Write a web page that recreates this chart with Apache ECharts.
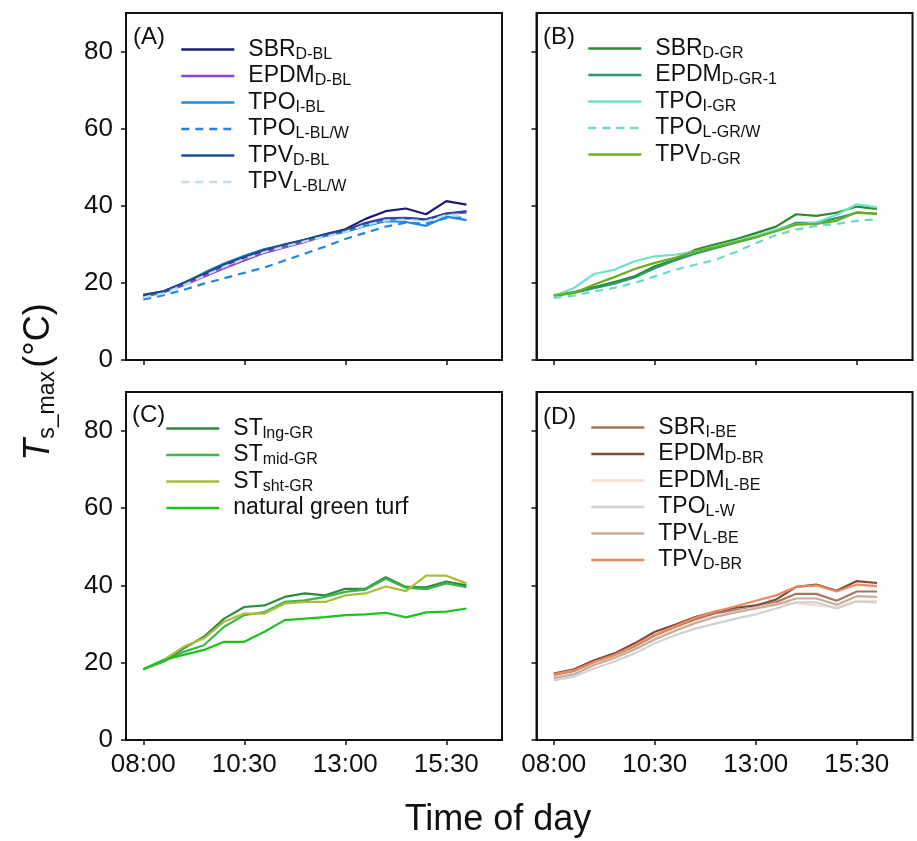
<!DOCTYPE html>
<html>
<head>
<meta charset="utf-8">
<script src="https://cdn.jsdelivr.net/npm/echarts@6/dist/echarts.min.js"></script>
<style>
html,body{margin:0;padding:0;background:#fff;}
#c{width:917px;height:841px;}
</style>
</head>
<body>
<div id="c"></div>
<script>
// ---- data ----
const times = ['08:00','08:30','09:00','09:30','10:00','10:30','11:00','11:30','12:00','12:30','13:00','13:30','14:00','14:30','15:00','15:30','16:00'];
const tickLabels = ['08:00','10:30','13:00','15:30'];
const yTicks = [0,20,40,60,80];
const panelLabels = ['(A)','(B)','(C)','(D)'];

// Panel A
const sbrDBL   = [16.9,17.8,19.8,22.2,24.6,26.6,28.4,29.8,31.2,32.6,33.9,36.6,38.6,39.3,37.8,41.2,40.3];
const epdmDBL  = [16.6,17.5,19.4,21.6,23.8,25.8,27.8,29.2,30.6,32.2,33.6,35.6,36.8,36.9,36.5,38.0,38.2];
const tpoIBL   = [16.3,17.6,20.0,22.6,25.0,27.0,28.8,29.8,31.0,32.2,33.2,34.8,36.0,35.8,34.8,37.2,36.3];
const tpoLBLW  = [15.7,16.8,18.2,19.8,21.2,22.6,24.0,25.8,27.6,29.4,31.4,33.0,34.6,35.6,35.4,36.8,37.0];
const tpvDBL   = [16.8,17.8,20.0,22.4,24.8,26.8,28.6,30.0,31.2,32.6,33.6,35.4,36.6,36.8,36.4,38.0,38.6];
const tpvLBLW  = [16.2,17.3,19.4,21.8,24.2,26.2,28.0,29.4,30.8,32.0,33.2,35.0,36.2,36.4,36.0,37.6,37.8];
// Panel B
const sbrDGR   = [16.8,17.6,18.9,20.2,21.7,24.3,26.0,28.6,30.0,31.3,32.9,34.6,37.8,37.4,38.2,39.8,39.2];
const epdmDGR1 = [16.6,17.4,18.6,19.8,21.4,23.8,25.8,27.6,29.0,30.4,31.8,33.6,35.6,35.6,36.8,38.2,38.0];
const tpoIGR   = [16.6,18.7,22.3,23.4,25.6,26.9,27.3,28.2,29.5,30.8,32.2,33.8,35.1,35.7,37.6,40.4,39.6];
const tpoLGRW  = [16.1,16.7,17.8,18.7,20.0,21.7,23.4,24.7,26.0,28.0,30.3,32.4,33.8,34.8,35.3,36.1,36.5];
const tpvDGR   = [16.8,17.4,19.6,21.5,23.6,25.2,26.5,28.2,29.3,30.6,31.9,33.4,35.1,35.3,36.1,38.3,37.8];
// Panel C
const stLng    = [18.3,20.3,23.7,26.7,31.4,34.4,34.8,37.0,37.9,37.4,39.1,39.1,42.1,39.6,39.5,41.0,40.0];
const stMid    = [18.3,20.3,22.8,24.5,29.3,32.3,33.1,35.7,36.1,37.0,38.3,38.9,41.7,39.4,39.0,40.5,39.5];
const stSht    = [18.3,20.7,24.1,26.3,30.6,32.7,32.7,35.3,35.7,35.7,37.4,37.9,39.7,38.5,42.5,42.5,40.5];
const natTurf  = [18.3,20.7,22.0,23.3,25.4,25.4,28.0,31.0,31.4,31.8,32.3,32.5,32.9,31.7,33.0,33.2,34.0];
// Panel D
const sbrIBE   = [16.8,17.8,20.2,21.8,24.0,27.0,29.2,31.2,32.8,33.6,34.2,35.6,37.8,37.8,36.0,38.4,38.4];
const epdmDBR  = [17.2,18.3,20.6,22.4,25.0,28.0,29.8,31.8,33.2,34.2,34.8,36.3,39.6,40.2,38.6,41.1,40.6];
const epdmLBE  = [16.2,17.2,19.6,21.4,23.6,26.4,28.6,30.6,32.0,33.2,34.2,35.2,35.4,34.8,34.4,36.0,36.0];
const tpoLW    = [15.4,16.4,18.5,20.3,22.4,25.0,27.1,28.8,30.1,31.4,32.5,34.0,35.6,35.6,34.0,35.8,35.6];
const tpvLBE   = [16.0,17.0,19.4,21.2,23.4,26.0,28.2,30.2,31.8,33.0,34.0,35.0,36.6,36.6,35.0,37.2,37.0];
const tpvDBR   = [17.0,18.0,20.2,22.0,24.4,27.2,29.4,31.6,33.2,34.6,36.0,37.4,39.6,40.0,38.4,40.2,39.8];

// ---- series definitions (main name, subscript, data, colour, dashed) ----
const panels = [
  [
    ['SBR','D-BL',sbrDBL,'#1c1c72',false],
    ['EPDM','D-BL',epdmDBL,'#8e44c8',false],
    ['TPO','I-BL',tpoIBL,'#1f8be0',false],
    ['TPO','L-BL/W',tpoLBLW,'#2585e0',true],
    ['TPV','D-BL',tpvDBL,'#1d4f8a',false],
    ['TPV','L-BL/W',tpvLBLW,'#c6daf2',true]
  ],
  [
    ['SBR','D-GR',sbrDGR,'#2a8a30',false],
    ['EPDM','D-GR-1',epdmDGR1,'#2f9a70',false],
    ['TPO','I-GR',tpoIGR,'#6ee0cc',false],
    ['TPO','L-GR/W',tpoLGRW,'#6ed8cc',true],
    ['TPV','D-GR',tpvDGR,'#6cae1e',false]
  ],
  [
    ['ST','lng-GR',stLng,'#2f8a40',false],
    ['ST','mid-GR',stMid,'#3cb54a',false],
    ['ST','sht-GR',stSht,'#a9bd3a',false],
    ['natural green turf','',natTurf,'#1ec21e',false]
  ],
  [
    ['SBR','I-BE',sbrIBE,'#a37860',false],
    ['EPDM','D-BR',epdmDBR,'#7d4d38',false],
    ['EPDM','L-BE',epdmLBE,'#f9dccb',false],
    ['TPO','L-W',tpoLW,'#d2d2d2',false],
    ['TPV','L-BE',tpvLBE,'#c5ae9e',false],
    ['TPV','D-BR',tpvDBR,'#ee8a62',false]
  ]
];

function toHours(s){const p=s.split(':');return +p[0]+(+p[1])/60;}
const xs = times.map(toHours);
const tickHours = tickLabels.map(toHours);

const FONT = '"Liberation Sans", Arial, sans-serif';
const grids = [
  {left:126, top:13, width:376, height:347},
  {left:536.5, top:13, width:376, height:347},
  {left:126, top:392, width:376, height:348},
  {left:536.5, top:392, width:376, height:348}
].map(g=>Object.assign(g,{show:true,borderColor:'#111',borderWidth:2,containLabel:false}));

const xAxes=[], yAxes=[], series=[], legends=[], nameMap={};
const legendPos=[[180,38],[587,37],[165,417],[590,416]];
for(let p=0;p<4;p++){
  xAxes.push({type:'value',gridIndex:p,min:7.572,max:16.879,
    axisLine:{show:true,lineStyle:{color:'#111',width:2}},
    axisTick:{show:true,inside:false,length:5,lineStyle:{color:'#111',width:1.5},customValues:tickHours},
    axisLabel:{show:p>=2,customValues:tickHours,margin:12,fontSize:26,color:'#111',fontFamily:FONT,
      formatter:v=>{const i=tickHours.findIndex(t=>Math.abs(t-v)<1e-6);return i>=0?tickLabels[i]:'';}},
    splitLine:{show:false}});
  yAxes.push({type:'value',gridIndex:p,min:0,max:90,
    axisLine:{show:true,lineStyle:{color:'#111',width:2}},
    axisTick:{show:true,length:5,lineStyle:{color:'#111',width:1.5},customValues:yTicks},
    axisLabel:{show:p%2===0,customValues:yTicks,margin:13,fontSize:26,color:'#111',fontFamily:FONT},
    splitLine:{show:false}});
  const names=[];
  panels[p].forEach(d=>{
    const name=d[0]+(d[1]?' '+d[1]:'');
    nameMap[name]=d;
    names.push(name);
    series.push({type:'line',name:name,xAxisIndex:p,yAxisIndex:p,
      data:d[2].map((v,i)=>[xs[i],v]),symbol:'none',showSymbol:false,smooth:false,
      color:d[3],lineStyle:{color:d[3],width:2.2,type:d[4]?[8,6]:'solid'},
      emphasis:{disabled:true},z:2});
  });
  legends.push({orient:'vertical',left:legendPos[p][0],top:legendPos[p][1],padding:0,
    itemWidth:53,itemHeight:14,itemGap:2,selectedMode:false,data:names,
    itemStyle:{opacity:0,borderWidth:0},
    lineStyle:{width:2.6},
    formatter:n=>{const d=nameMap[n];return d[1]?'{m|'+d[0]+'}{s|'+d[1]+'}':'{m|'+d[0]+'}';},
    textStyle:{color:'#111',fontFamily:FONT,rich:{
      m:{fontSize:23,lineHeight:26,padding:[0,0,0,9],color:'#111',fontFamily:FONT},
      s:{fontSize:16,lineHeight:12,verticalAlign:'bottom',color:'#111',fontFamily:FONT}}}});
}

const graphics=[];
const lblPos=[[133,37],[543,37],[132,415],[543,417]];
panelLabels.forEach((t,i)=>graphics.push({type:'text',x:lblPos[i][0],y:lblPos[i][1],
  style:{text:t,fontSize:24,fill:'#111',fontFamily:FONT,align:'left',verticalAlign:'middle'}}));
graphics.push({type:'text',x:498,y:820,style:{text:'Time of day',fontSize:36,fill:'#111',fontFamily:FONT,align:'center',verticalAlign:'middle'}});
graphics.push({type:'text',x:39,y:382,rotation:Math.PI/2,style:{
  text:'{i|T}{s|s_max} {n|(°C)}',align:'center',verticalAlign:'middle',fill:'#111',
  rich:{i:{fontSize:36,fontStyle:'italic',lineHeight:40,fontFamily:FONT,fill:'#111'},
        s:{fontSize:23,lineHeight:22,verticalAlign:'bottom',fontFamily:FONT,fill:'#111'},
        n:{fontSize:36,lineHeight:40,fontFamily:FONT,fill:'#111'}}}});

const chart=echarts.init(document.getElementById('c'),null,{renderer:'canvas'});
chart.setOption({animation:false,backgroundColor:'#fff',grid:grids,xAxis:xAxes,yAxis:yAxes,
  series:series,legend:legends,graphic:graphics});
</script>
</body>
</html>
